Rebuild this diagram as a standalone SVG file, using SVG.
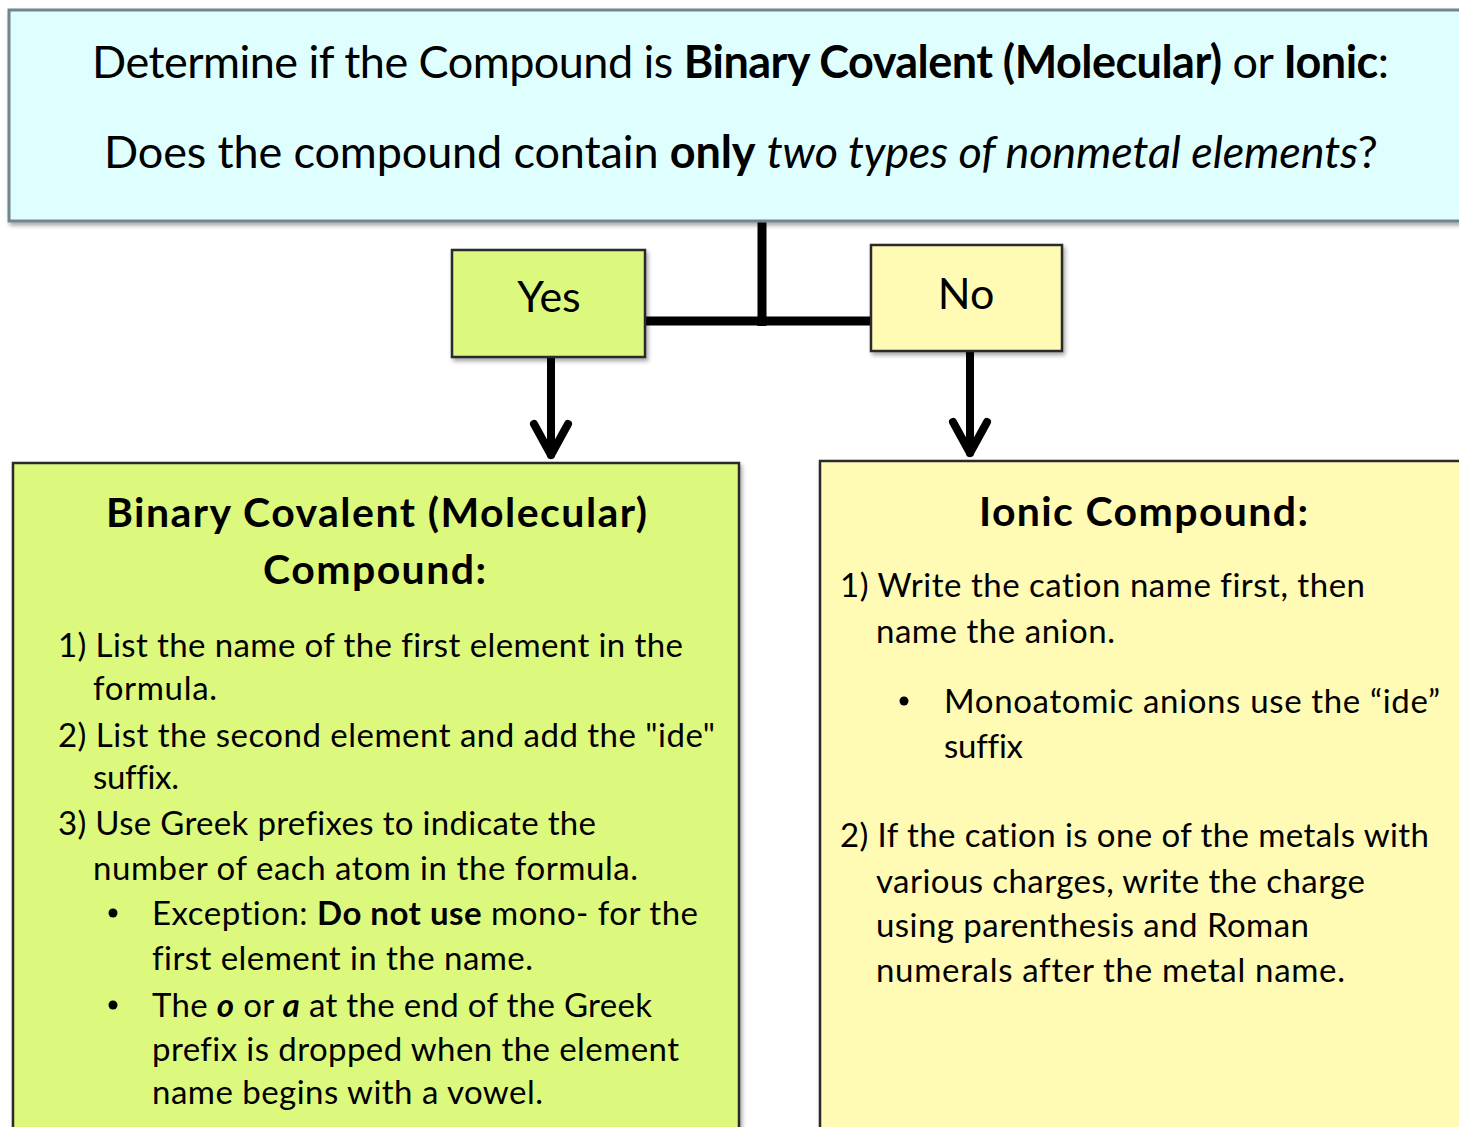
<svg xmlns="http://www.w3.org/2000/svg" width="1459" height="1127" viewBox="0 0 1459 1127">
<style>
  text { font-family: Lato, "Liberation Sans", sans-serif; fill: #000; font-variant-ligatures: none; }
  .title { font-size: 45px; }
  .lbl { font-size: 43px; text-anchor: middle; }
  .head { font-size: 41px; font-weight: bold; }
  .body { font-size: 33px; }
  .b { font-weight: bold; }
  .i { font-style: italic; }
  .conn { stroke: #000; stroke-width: 9; fill: none; }
  .arrow { stroke: #000; stroke-width: 8; fill: none; stroke-linecap: round; stroke-linejoin: round; }
  .green { fill: #ddf97d; stroke: #2a2a2a; stroke-width: 2.5; }
  .yellow { fill: #fffbb4; stroke: #2a2a2a; stroke-width: 2.5; }
</style>
<defs>
  <filter id="sh" x="-5%" y="-5%" width="115%" height="120%">
    <feDropShadow dx="2" dy="3" stdDeviation="2" flood-color="#000" flood-opacity="0.35"/>
  </filter>
</defs>
<rect width="1459" height="1127" fill="#fff"/>

<g id="connectors">
  <line class="conn" x1="762" y1="221" x2="762" y2="326"/>
  <line class="conn" x1="645" y1="321" x2="871" y2="321"/>
  <line class="arrow" x1="551" y1="357" x2="551" y2="455"/>
  <polyline class="arrow" points="534,424 551,455 568,424"/>
  <line class="arrow" x1="970" y1="351" x2="970" y2="453"/>
  <polyline class="arrow" points="953,422 970,453 987,422"/>
</g>

<g id="question">
  <rect x="9" y="10" width="1465" height="211" fill="#dfffff" stroke="#6f8590" stroke-width="3" filter="url(#sh)"/>
  <text class="title" x="92" y="78" textLength="1297">Determine if the Compound is <tspan class="b">Binary Covalent (Molecular)</tspan> or <tspan class="b">Ionic</tspan>:</text>
  <text class="title" x="104" y="168" textLength="1274">Does the compound contain <tspan class="b">only</tspan> <tspan class="i">two types of nonmetal elements</tspan>?</text>
</g>

<g id="yes">
  <rect class="green" x="452" y="250" width="193" height="107" filter="url(#sh)"/>
  <text class="lbl" x="549" y="312">Yes</text>
</g>

<g id="no">
  <rect class="yellow" x="871" y="245" width="191" height="106" filter="url(#sh)"/>
  <text class="lbl" x="966" y="309">No</text>
</g>

<g id="covalent">
  <rect class="green" x="13" y="463" width="726" height="700" filter="url(#sh)"/>
  <text class="head" x="106" y="527" textLength="541">Binary Covalent (Molecular)</text>
  <text class="head" x="263" y="584" textLength="223">Compound:</text>
  <text class="body" x="58" y="657" textLength="625">1) List the name of the first element in the</text>
  <text class="body" x="93" y="700" textLength="124">formula.</text>
  <text class="body" x="58" y="747" textLength="657">2) List the second element and add the "ide"</text>
  <text class="body" x="93" y="789" textLength="86">suffix.</text>
  <text class="body" x="58" y="835" textLength="538">3) Use Greek prefixes to indicate the</text>
  <text class="body" x="93" y="880" textLength="545">number of each atom in the formula.</text>
  <circle cx="113" cy="913" r="4.5" fill="#000"/>
  <text class="body" x="152" y="925" textLength="546">Exception:  <tspan class="b">Do not use</tspan> mono- for the</text>
  <text class="body" x="152" y="970" textLength="381">first element in the name.</text>
  <circle cx="113" cy="1005" r="4.5" fill="#000"/>
  <text class="body" x="152" y="1017" textLength="500">The <tspan class="b i">o</tspan> or <tspan class="b i">a</tspan> at the end of the Greek</text>
  <text class="body" x="152" y="1061" textLength="527">prefix is dropped when the element</text>
  <text class="body" x="152" y="1104" textLength="391">name begins with a vowel.</text>
</g>

<g id="ionic">
  <rect class="yellow" x="820" y="461" width="660" height="700" filter="url(#sh)"/>
  <text class="head" x="979" y="526" textLength="329">Ionic Compound:</text>
  <text class="body" x="840" y="597" textLength="525">1) Write the cation name first, then</text>
  <text class="body" x="876" y="643" textLength="239">name the anion.</text>
  <circle cx="904" cy="701" r="4.5" fill="#000"/>
  <text class="body" x="944" y="713" textLength="496">Monoatomic anions use the “ide”</text>
  <text class="body" x="944" y="758" textLength="79">suffix</text>
  <text class="body" x="840" y="847" textLength="589">2) If the cation is one of the metals with</text>
  <text class="body" x="876" y="893" textLength="489">various charges, write the charge</text>
  <text class="body" x="876" y="937" textLength="433">using parenthesis and Roman</text>
  <text class="body" x="876" y="982" textLength="469">numerals after the metal name.</text>
</g>
</svg>
